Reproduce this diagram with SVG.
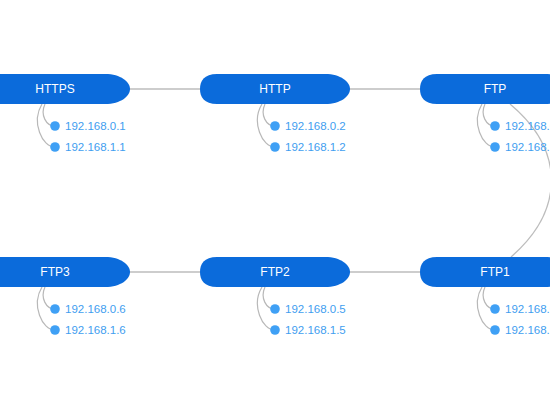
<svg xmlns="http://www.w3.org/2000/svg" width="550" height="420" viewBox="0 0 550 420">
<defs>
<style>
.body{fill:#0b6bdb}
.t{fill:#ffffff;font-family:"Liberation Sans",Arial,sans-serif;font-size:12px;text-anchor:middle}
.leaf{fill:none;stroke:#b8b8b8;stroke-width:1.2}
.dot{fill:#3fa0f5}
.ip{fill:#3f9ef0;font-family:"Liberation Sans",Arial,sans-serif;font-size:11.5px}
.edge{fill:none;stroke:#bdbdbd;stroke-width:1.3}
</style>
<path id="shape" fill="#0b6bdb" d="M -58 -15 H 50 C 66 -15 75 -7 75 0 C 75 7 66 15 50 15 H -58 C -71 15 -75 8 -75 0 C -75 -8 -71 -15 -58 -15 Z"/>
</defs>
<rect width="550" height="420" fill="#ffffff"/>
<g id="connectors">
<path class="edge" d="M130 89 H200"/>
<path class="edge" d="M350 89 H420"/>
<path class="edge" d="M511 257 C565 210 565 150 510 104"/>
<path class="edge" d="M420 272 H350"/>
<path class="edge" d="M200 272 H130"/>
</g>
<g id="node-https" transform="translate(55,89)">
<path class="leaf" d="M-10 15 C-15 26 -9 37 0 37"/>
<path class="leaf" d="M-13 15 C-24 33 -13 58 0 58"/>
<use class="body" href="#shape"/>
<text class="t" x="0" y="4">HTTPS</text>
<circle class="dot" cx="0" cy="37" r="4.8"/>
<circle class="dot" cx="0" cy="58" r="4.8"/>
<text class="ip" x="10" y="41">192.168.0.1</text>
<text class="ip" x="10" y="62">192.168.1.1</text>
</g>
<g id="node-http" transform="translate(275,89)">
<path class="leaf" d="M-10 15 C-15 26 -9 37 0 37"/>
<path class="leaf" d="M-13 15 C-24 33 -13 58 0 58"/>
<use class="body" href="#shape"/>
<text class="t" x="0" y="4">HTTP</text>
<circle class="dot" cx="0" cy="37" r="4.8"/>
<circle class="dot" cx="0" cy="58" r="4.8"/>
<text class="ip" x="10" y="41">192.168.0.2</text>
<text class="ip" x="10" y="62">192.168.1.2</text>
</g>
<g id="node-ftp" transform="translate(495,89)">
<path class="leaf" d="M-10 15 C-15 26 -9 37 0 37"/>
<path class="leaf" d="M-13 15 C-24 33 -13 58 0 58"/>
<use class="body" href="#shape"/>
<text class="t" x="0" y="4">FTP</text>
<circle class="dot" cx="0" cy="37" r="4.8"/>
<circle class="dot" cx="0" cy="58" r="4.8"/>
<text class="ip" x="10" y="41">192.168.0.3</text>
<text class="ip" x="10" y="62">192.168.1.3</text>
</g>
<g id="node-ftp3" transform="translate(55,272)">
<path class="leaf" d="M-10 15 C-15 26 -9 37 0 37"/>
<path class="leaf" d="M-13 15 C-24 33 -13 58 0 58"/>
<use class="body" href="#shape"/>
<text class="t" x="0" y="4">FTP3</text>
<circle class="dot" cx="0" cy="37" r="4.8"/>
<circle class="dot" cx="0" cy="58" r="4.8"/>
<text class="ip" x="10" y="41">192.168.0.6</text>
<text class="ip" x="10" y="62">192.168.1.6</text>
</g>
<g id="node-ftp2" transform="translate(275,272)">
<path class="leaf" d="M-10 15 C-15 26 -9 37 0 37"/>
<path class="leaf" d="M-13 15 C-24 33 -13 58 0 58"/>
<use class="body" href="#shape"/>
<text class="t" x="0" y="4">FTP2</text>
<circle class="dot" cx="0" cy="37" r="4.8"/>
<circle class="dot" cx="0" cy="58" r="4.8"/>
<text class="ip" x="10" y="41">192.168.0.5</text>
<text class="ip" x="10" y="62">192.168.1.5</text>
</g>
<g id="node-ftp1" transform="translate(495,272)">
<path class="leaf" d="M-10 15 C-15 26 -9 37 0 37"/>
<path class="leaf" d="M-13 15 C-24 33 -13 58 0 58"/>
<use class="body" href="#shape"/>
<text class="t" x="0" y="4">FTP1</text>
<circle class="dot" cx="0" cy="37" r="4.8"/>
<circle class="dot" cx="0" cy="58" r="4.8"/>
<text class="ip" x="10" y="41">192.168.0.4</text>
<text class="ip" x="10" y="62">192.168.1.4</text>
</g>
</svg>
